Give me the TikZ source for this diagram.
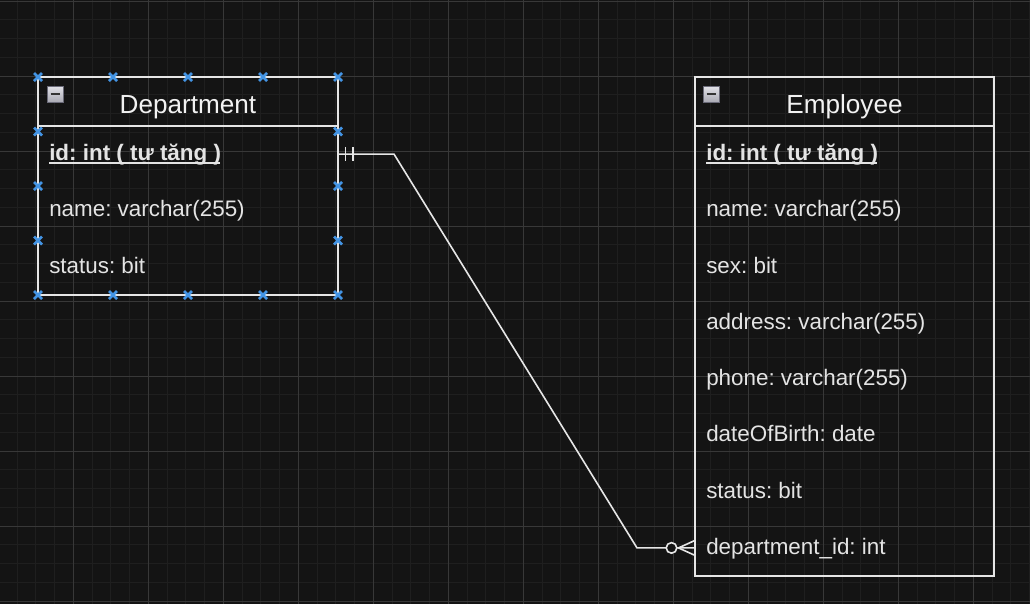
\documentclass[tikz,border=0pt]{standalone}
\usepackage{fontspec}
\setmainfont{Liberation Sans}
\usetikzlibrary{calc}
\frenchspacing
\definecolor{bg}{HTML}{141414}
\definecolor{gminor}{HTML}{1F1F1F}
\definecolor{gmajor}{HTML}{383838}
\definecolor{edgecol}{HTML}{E6E6E6}
\definecolor{txtcol}{HTML}{E4E4E4}
\definecolor{titlecol}{HTML}{F2F2F2}
\definecolor{handlecol}{HTML}{4394E4}
\definecolor{icontop}{HTML}{E2E2E8}
\definecolor{iconbot}{HTML}{A8A8B2}
\definecolor{iconedge}{HTML}{6A6A78}
\begin{document}
\begin{tikzpicture}[x=0.75pt,y=-0.75pt,
  entity/.style={draw=edgecol, line width=1.3pt, inner sep=0pt, outer sep=0pt},
  rowbox/.style={inner sep=0pt, outer sep=0pt, minimum height=42pt},
  titletext/.style={inner sep=0pt, anchor=base, text=titlecol, font=\fontsize{19.6pt}{22pt}\selectfont},
  rowtext/.style={inner sep=0pt, anchor=base west, text=txtcol, font=\fontsize{16.8pt}{20pt}\selectfont},
  conn/.style={draw=edgecol, line width=1.2pt},
  handle/.style={draw=handlecol, line width=1.9pt},
  ulink/.style={draw=txtcol, line width=1.1pt}]
\useasboundingbox (0,0) rectangle (1030,604);
\fill[bg] (0,0) rectangle (1030,604);
% grid
\foreach \i in {0,...,55} \draw[gminor, line width=0.75pt] ({-1.7+18.75*\i},0) -- ({-1.7+18.75*\i},604);
\foreach \j in {0,...,32} \draw[gminor, line width=0.75pt] (0,{1+18.75*\j}) -- (1030,{1+18.75*\j});
\foreach \i in {0,...,14} \draw[gmajor, line width=0.75pt] ({-1.7+75*\i},0) -- ({-1.7+75*\i},604);
\foreach \j in {0,...,8} \draw[gmajor, line width=0.75pt] (0,{1+75*\j}) -- (1030,{1+75*\j});

% Department
\node[entity, minimum width=225pt, minimum height=163.5pt] (dept) at (188,186) {};
\draw[conn] (38,126) -- (338,126);
\node[titletext] (dtitle) at (188,113) {Department};
\node[rowbox, minimum width=225pt] (d1) at (188,154.1) {};
\node[rowtext, font=\fontsize{16.8pt}{20pt}\selectfont\bfseries] (dt1) at (49,160.5) {id: int ( tự tăng )};
\draw[ulink] ($(dt1.base west)+(0,2.3)$) -- ($(dt1.base east)+(-1,2.3)$);
\node[rowtext] (dt2) at (49,216.75) {name: varchar(255)};
\node[rowtext] (dt3) at (49,273) {status: bit};

% Employee
\node[entity, minimum width=224.25pt, minimum height=374.25pt] (emp) at (844.5,326.5) {};
\draw[conn] (695,126) -- (994,126);
\node[titletext] (etitle) at (844.5,113) {Employee};
\node[rowbox, minimum width=224.25pt] (e8) at (844.5,547.9) {};
\node[rowtext, font=\fontsize{16.8pt}{20pt}\selectfont\bfseries] (et1) at (706,160.5) {id: int ( tự tăng )};
\draw[ulink] ($(et1.base west)+(0,2.3)$) -- ($(et1.base east)+(-1,2.3)$);
\node[rowtext] (et2) at (706,216.75) {name: varchar(255)};
\node[rowtext] (et3) at (706,273) {sex: bit};
\node[rowtext] (et4) at (706,329.25) {address: varchar(255)};
\node[rowtext] (et5) at (706,385.5) {phone: varchar(255)};
\node[rowtext] (et6) at (706,441.75) {dateOfBirth: date};
\node[rowtext] (et7) at (706,498) {status: bit};
\node[rowtext] (et8) at (706,554.25) {department\_id: int};

% collapse icons
\foreach \ox in {47,703} {
  \shade[top color=icontop, bottom color=iconbot, draw=iconedge, line width=0.6pt] (\ox,86) rectangle (\ox+16.5,102.5);
  \draw[draw=black!80, line width=1.4pt] (\ox+3.5,94.3) -- (\ox+13,94.3);
}

% connector
\coordinate (bend1) at (394,154.1);
\coordinate (bend2) at (637,547.9);
\draw[conn] (d1.east) -- (bend1) -- (bend2) -- (e8.west);
% mandatory one
\draw[conn] ($(d1.east)+(7.3,-7.2)$) -- ($(d1.east)+(7.3,7.2)$);
\draw[conn] ($(d1.east)+(15,-7.2)$) -- ($(d1.east)+(15,7.2)$);
% zero or many
\draw[conn] ($(e8.west)+(-16.5,0)$) -- ($(e8.west)+(0,-7.5)$);
\draw[conn] ($(e8.west)+(-16.5,0)$) -- ($(e8.west)+(0,7.5)$);
\draw[conn, fill=bg] ($(e8.west)+(-23.5,0)$) circle[radius=5.3];

% selection handles
\foreach \x in {38,113,188,263,338} \foreach \y in {77,295}
  \draw[handle] (\x-4,\y-4) -- (\x+4,\y+4) (\x-4,\y+4) -- (\x+4,\y-4);
\foreach \x in {38,338} \foreach \y in {131.5,186,240.5}
  \draw[handle] (\x-4,\y-4) -- (\x+4,\y+4) (\x-4,\y+4) -- (\x+4,\y-4);
\end{tikzpicture}
\end{document}
